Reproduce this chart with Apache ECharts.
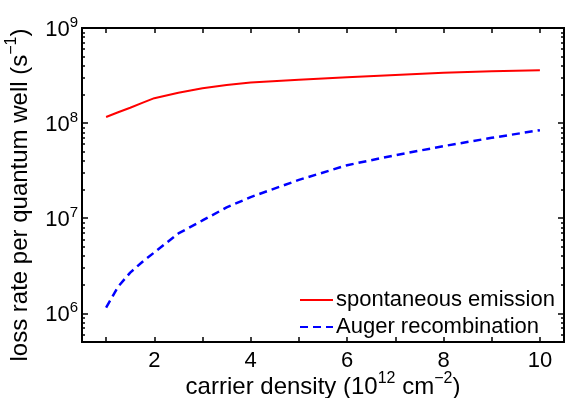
<!DOCTYPE html>
<html>
<head>
<meta charset="utf-8">
<script src="https://cdn.jsdelivr.net/npm/echarts@6/dist/echarts.min.js"></script>
<style>html,body{margin:0;padding:0;background:#fff;}#c{width:566px;height:398px;}</style>
</head>
<body>
<div id="c"></div>
<script>
const carrierDensity = [1, 1.25, 1.5, 1.75, 2, 2.5, 3, 3.5, 4, 5, 6, 7, 8, 9, 10];
const spontaneousEmission = [1.16e8, 1.30e8, 1.45e8, 1.63e8, 1.83e8, 2.09e8, 2.32e8, 2.51e8, 2.68e8, 2.86e8, 3.03e8, 3.2e8, 3.38e8, 3.5e8, 3.59e8];
const augerRecombination = [1.15e6, 1.91e6, 2.68e6, 3.47e6, 4.37e6, 6.92e6, 9.48e6, 1.30e7, 1.67e7, 2.53e7, 3.61e7, 4.6e7, 5.73e7, 7.0e7, 8.43e7];
const xTickValues = [1, 2, 3, 4, 5, 6, 7, 8, 9, 10];
const xTickLabels = [2, 4, 6, 8, 10];
const yMajorTicks = [1e6, 1e7, 1e8, 1e9];
const yMinorTicks = [5e5, 6e5, 7e5, 8e5, 9e5,
  2e6, 3e6, 4e6, 5e6, 6e6, 7e6, 8e6, 9e6,
  2e7, 3e7, 4e7, 5e7, 6e7, 7e7, 8e7, 9e7,
  2e8, 3e8, 4e8, 5e8, 6e8, 7e8, 8e8, 9e8];

const FONT = 'Liberation Sans';
const X_MIN = 0.5, X_MAX = 10.5, Y_MIN = 5e5, Y_MAX = 1e9;

const titleRich = {
  n: { fontSize: 24, fontFamily: FONT, color: '#000', verticalAlign: 'bottom', lineHeight: 28 },
  s: { fontSize: 16, fontFamily: FONT, color: '#000', verticalAlign: 'top', lineHeight: 28 }
};

function xAxisCfg(pos, withLabels) {
  return {
    type: 'value', position: pos, min: X_MIN, max: X_MAX,
    axisLine: { show: true, onZero: false, lineStyle: { color: '#000', width: 2 } },
    axisTick: { show: true, inside: true, length: 5, customValues: xTickValues, lineStyle: { color: '#000', width: 1.5 } },
    axisLabel: withLabels ? { show: true, customValues: xTickLabels, fontSize: 22, color: '#000', fontFamily: FONT, margin: 8 } : { show: false },
    splitLine: { show: false },
    name: withLabels ? '{n|carrier density (10}{s|12}{n| cm}{s|−2}{n|)}' : '',
    nameLocation: 'middle', nameGap: 29, nameMoveOverlap: false,
    nameTextStyle: { fontFamily: FONT, color: '#000', rich: titleRich }
  };
}
function yAxisCfg(pos, ticks, len, withLabels, withName) {
  return {
    type: 'log', logBase: 10, position: pos, min: Y_MIN, max: Y_MAX,
    axisLine: { show: true, onZero: false, lineStyle: { color: '#000', width: 2 } },
    axisTick: { show: true, inside: true, length: len, customValues: ticks, lineStyle: { color: '#000', width: 1.5 } },
    axisLabel: withLabels ? {
      show: true, customValues: yMajorTicks, margin: 4, fontFamily: FONT, color: '#000',
      formatter: function (v) { return '{b|10}{s|' + Math.round(Math.log10(v)) + '}'; },
      rich: { b: { fontSize: 22, fontFamily: FONT, color: '#000', verticalAlign: 'bottom', lineHeight: 26 },
              s: { fontSize: 15, fontFamily: FONT, color: '#000', verticalAlign: 'top', lineHeight: 26 } }
    } : { show: false },
    splitLine: { show: false },
    name: withName ? '{n|loss rate per quantum well (s}{s|−1}{n|)}' : '',
    nameLocation: 'middle', nameGap: 50, nameRotate: 90, nameMoveOverlap: false,
    nameTextStyle: { fontFamily: FONT, color: '#000', rich: titleRich, padding: [0, 20, 0, 0] }
  };
}

const chart = echarts.init(document.getElementById('c'), null, { renderer: 'canvas' });
chart.setOption({
  animation: false,
  backgroundColor: '#fff',
  grid: { left: 82, right: 2, top: 28, bottom: 56, containLabel: false, outerBoundsMode: 'none' },
  xAxis: [xAxisCfg('bottom', true), xAxisCfg('top', false)],
  yAxis: [
    yAxisCfg('left', yMajorTicks, 6, true, true),
    yAxisCfg('left', yMinorTicks, 3, false, false),
    yAxisCfg('right', yMajorTicks, 6, false, false),
    yAxisCfg('right', yMinorTicks, 3, false, false)
  ],
  legend: {
    orient: 'vertical', left: 294, top: 284, itemWidth: 33, itemHeight: 14, itemGap: 5,
    itemStyle: { opacity: 0 },
    textStyle: { fontSize: 22, fontFamily: FONT, color: '#000', padding: [0, 0, 0, -2] },
    data: ['spontaneous emission', 'Auger recombination']
  },
  series: [
    {
      name: 'spontaneous emission', type: 'line', xAxisIndex: 0, yAxisIndex: 0,
      data: carrierDensity.map((x, i) => [x, spontaneousEmission[i]]),
      smooth: false, showSymbol: false, symbol: 'none',
      lineStyle: { color: '#ff0000', width: 2 }, itemStyle: { color: '#ff0000' }
    },
    {
      name: 'Auger recombination', type: 'line', xAxisIndex: 0, yAxisIndex: 0,
      data: carrierDensity.map((x, i) => [x, augerRecombination[i]]),
      smooth: false, showSymbol: false, symbol: 'none',
      lineStyle: { color: '#0000ff', width: 2.5, type: [8, 5] }, itemStyle: { color: '#0000ff' }
    }
  ]
});
</script>
</body>
</html>
